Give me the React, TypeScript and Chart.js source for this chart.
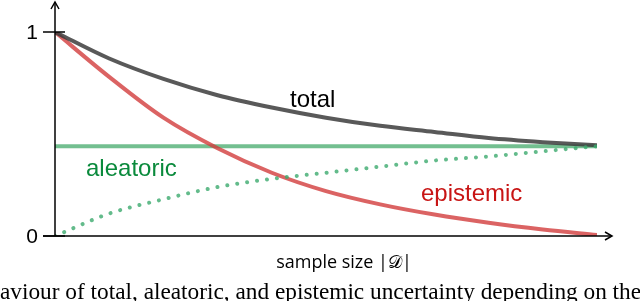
import React, { useEffect, useRef } from "react";
import { Chart, registerables } from "chart.js";

Chart.register(...registerables);

const sampleSize = [0, 0.1, 0.2, 0.3, 0.4, 0.5, 0.6, 0.7, 0.8, 0.9, 1.0];
const total = [1.0, 0.87, 0.77, 0.69, 0.63, 0.58, 0.54, 0.51, 0.48, 0.46, 0.445];
const aleatoric = [0.44, 0.44, 0.44, 0.44, 0.44, 0.44, 0.44, 0.44, 0.44, 0.44, 0.44];
const aleatoricEstimate = [0.0, 0.11, 0.18, 0.24, 0.28, 0.31, 0.34, 0.37, 0.39, 0.415, 0.44];
const epistemic = [1.0, 0.78, 0.58, 0.43, 0.31, 0.22, 0.155, 0.105, 0.065, 0.032, 0.005];
const yTicks = [0, 1];
const labels = { total: "total", aleatoric: "aleatoric", epistemic: "epistemic" };
const xTitle = "sample size |𝒟|";
const caption = "aviour of total, aleatoric, and epistemic uncertainty depending on the";

const pts = (ys: number[]) => sampleSize.map((x, i) => ({ x, y: ys[i] }));

export default function App() {
  const ref = useRef<HTMLCanvasElement>(null);
  useEffect(() => {
    if (!ref.current) return;
    const overlay = {
      id: "overlay",
      afterDraw(chart: any) {
        const { ctx, scales } = chart;
        const xs = scales.x, ys = scales.y;
        const x0 = xs.getPixelForValue(0);
        const y0 = ys.getPixelForValue(0);
        ctx.save();
        ctx.strokeStyle = "#000";
        ctx.lineWidth = 1.5;
        // y axis
        ctx.beginPath();
        ctx.moveTo(x0, y0);
        ctx.lineTo(x0, 2);
        ctx.stroke();
        ctx.beginPath();
        ctx.moveTo(x0 - 4, 9);
        ctx.lineTo(x0, 2);
        ctx.lineTo(x0 + 4, 9);
        ctx.stroke();
        // x axis
        const xEnd = 612;
        ctx.beginPath();
        ctx.moveTo(43, y0);
        ctx.lineTo(xEnd, y0);
        ctx.stroke();
        ctx.beginPath();
        ctx.moveTo(xEnd - 7, y0 - 4);
        ctx.lineTo(xEnd, y0);
        ctx.lineTo(xEnd - 7, y0 + 4);
        ctx.stroke();
        // y ticks
        ctx.fillStyle = "#000";
        ctx.font = "21px 'Liberation Sans', Arial, sans-serif";
        ctx.textAlign = "right";
        ctx.textBaseline = "middle";
        yTicks.forEach((t) => {
          const py = ys.getPixelForValue(t);
          ctx.beginPath();
          ctx.moveTo(43, py);
          ctx.lineTo(65, py);
          ctx.stroke();
          ctx.fillText(String(t), 38, py + 1);
        });
        // x title
        ctx.font = "18px 'Open Sans', 'DejaVu Sans', sans-serif";
        ctx.textAlign = "center";
        ctx.textBaseline = "alphabetic";
        ctx.fillText(xTitle, 344, 268);
        // labels
        ctx.font = "24px 'Liberation Sans', Arial, sans-serif";
        ctx.textAlign = "left";
        ctx.fillStyle = "#000";
        ctx.fillText(labels.total, 290, 107);
        ctx.fillStyle = "#0a8a3c";
        ctx.fillText(labels.aleatoric, 86, 176);
        ctx.fillStyle = "#c81414";
        ctx.fillText(labels.epistemic, 421, 201);
        ctx.restore();
      },
    };
    const chart = new Chart(ref.current, {
      type: "line",
      data: {
        datasets: [
          {
            label: "aleatoric (estimate)",
            data: pts(aleatoricEstimate),
            borderColor: "rgba(60,170,110,0.8)",
            borderWidth: 4,
            borderDash: [0.01, 10],
            borderCapStyle: "round",
            pointRadius: 0,
            cubicInterpolationMode: "monotone",
            order: 0,
          },
          {
            label: "total",
            data: pts(total),
            borderColor: "rgba(60,60,60,0.85)",
            borderWidth: 4,
            pointRadius: 0,
            cubicInterpolationMode: "monotone",
            order: 1,
          },
          {
            label: "epistemic",
            data: pts(epistemic),
            borderColor: "rgba(210,60,60,0.8)",
            borderWidth: 4,
            pointRadius: 0,
            cubicInterpolationMode: "monotone",
            order: 2,
          },
          {
            label: "aleatoric",
            data: pts(aleatoric),
            borderColor: "rgba(90,180,125,0.85)",
            borderWidth: 4,
            pointRadius: 0,
            order: 3,
          },
        ],
      },
      options: {
        animation: false,
        responsive: false,
        layout: { padding: { left: 55, right: 43, top: 32, bottom: 65 } },
        plugins: { legend: { display: false }, tooltip: { enabled: false } },
        scales: {
          x: { type: "linear", min: 0, max: 1, display: false },
          y: { type: "linear", min: 0, max: 1, display: false },
        },
      },
      plugins: [overlay],
    } as any);
    return () => chart.destroy();
  }, []);
  return (
    <div style={{ position: "fixed", left: 0, top: 0, width: 640, height: 301, overflow: "hidden", background: "#fff" }}>
      <canvas ref={ref} width={640} height={301} style={{ position: "absolute", left: 0, top: 0 }} />
      <div
        style={{
          position: "absolute",
          left: 0,
          top: 278,
          fontFamily: "'Liberation Serif', 'Times New Roman', serif",
          fontSize: 23.3,
          lineHeight: "26px",
          whiteSpace: "nowrap",
          color: "#000",
        }}
      >
        {caption}
      </div>
    </div>
  );
}
